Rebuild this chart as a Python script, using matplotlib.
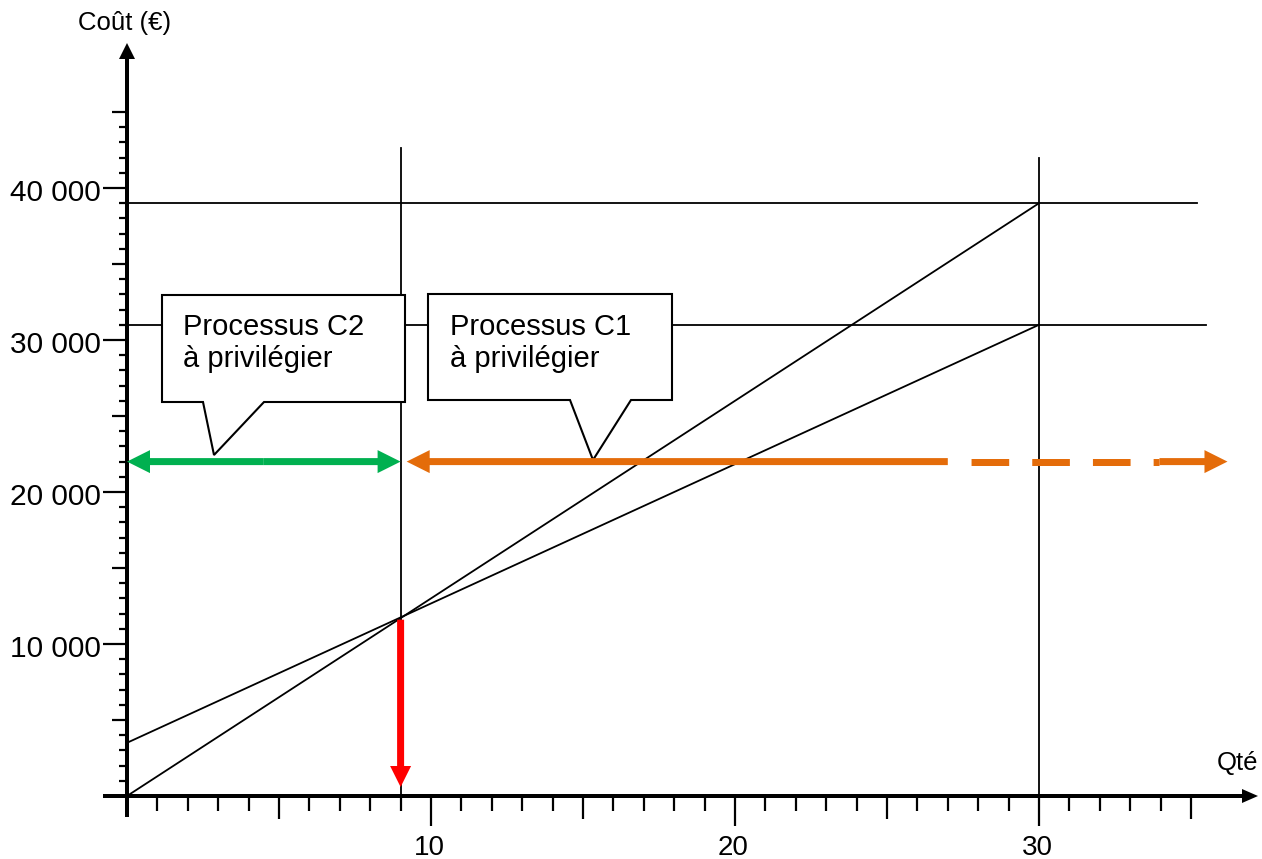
import matplotlib
matplotlib.use("Agg")
import matplotlib.pyplot as plt
import matplotlib.patches as patches

plt.rcParams['font.family'] = ['Liberation Sans', 'DejaVu Sans']
plt.rcParams['lines.scale_dashes'] = False

# data
qty = [0, 30]
cost_c2 = [0, 39000]      # line through the origin
cost_c1 = [3500, 31000]   # line with a fixed cost
threshold_qty = 9
threshold_cost = 11600
ref_levels = [39000, 31000]
ref_level_ends = [35.2, 35.5]
ref_qty = [9, 30]
ref_qty_tops = [42600, 42000]
zone_level = 22000
c2_zone = [0, 9]
c1_zone = [9.2, 27, 36.2]    # start, end of solid part, tip of dashed part
x_tick_vals = [10, 20, 30]
x_tick_labels = ['10', '20', '30']
y_tick_vals = [10000, 20000, 30000, 40000]
y_tick_labels = ['10 000', '20 000', '30 000', '40 000']
box_texts = ['Processus C2\nà privilégier', 'Processus C1\nà privilégier']

GREEN = '#00B050'
ORANGE = '#E46C0A'
RED = '#FF0000'

# pixel <-> data helpers (origin at pixel 127, 796)
PX = 30.4      # pixels per unit of quantity
PY = 0.0152    # pixels per euro
def px(p):
    return (p - 127) / PX
def py(p):
    return (796 - p) / PY

fig = plt.figure(figsize=(12.62, 8.59), dpi=100)
ax = fig.add_axes([0, 0, 1, 1])
ax.set_xlim(px(0), px(1262))
ax.set_ylim(py(859), py(0))
ax.axis('off')

# cost lines
ax.plot(qty, cost_c2, color='black', lw=1.3, zorder=2)
ax.plot(qty, cost_c1, color='black', lw=1.3, zorder=2)

# reference lines
for lvl, end in zip(ref_levels, ref_level_ends):
    ax.plot([0, end], [lvl, lvl], color='black', lw=1.3, zorder=2)
for q, top in zip(ref_qty, ref_qty_tops):
    ax.plot([q, q], [0, top], color='black', lw=1.3, zorder=2)

# axes with arrows
ax.add_patch(patches.FancyArrow(0, py(817), 0, py(43) - py(817), width=4 / PX,
                                head_width=16 / PX, head_length=16 / PY,
                                length_includes_head=True, color='black', lw=0, zorder=4))
ax.add_patch(patches.FancyArrow(px(103), 0, px(1258) - px(103), 0, width=4 / PY,
                                head_width=14 / PY, head_length=16 / PX,
                                length_includes_head=True, color='black', lw=0, zorder=4))

# x ticks
for q in range(1, 36):
    ln = 30 if q % 10 == 0 else (23 if q % 5 == 0 else 15)
    ax.plot([q, q], [0, py(796 + ln)], color='black', lw=1.6, solid_capstyle='butt', zorder=4)
# y ticks
for c in range(1000, 46000, 1000):
    ln = 24 if c % 10000 == 0 else (15 if c % 5000 == 0 else 8)
    ax.plot([px(127 - ln), 0], [c, c], color='black', lw=1.6, solid_capstyle='butt', zorder=4)

for v, lab in zip(x_tick_vals, x_tick_labels):
    ax.text(v - 2 / PX, py(848), lab, ha='center', va='center', fontsize=20)
for v, lab in zip(y_tick_vals, y_tick_labels):
    ax.text(px(101), v - 5 / PY, lab, ha='right', va='center', fontsize=21.5)

ax.text(px(78), py(23), 'Coût (€)', ha='left', va='center', fontsize=18.5)
ax.text(px(1217), py(763), 'Qté', ha='left', va='center', fontsize=18.5)

# callout boxes
boxes = [
    [(162, 295), (405, 295), (405, 402), (264, 402), (214, 455), (203, 402), (162, 402)],
    [(428, 294), (672, 294), (672, 400), (631, 400), (593, 460), (570, 400), (428, 400)],
]
text_pos = [(183, 367), (450, 367)]   # baseline of the second line
for verts, txt, (tx, ty) in zip(boxes, box_texts, text_pos):
    ax.add_patch(patches.Polygon([(px(a), py(b)) for a, b in verts], closed=True,
                                 facecolor='white', edgecolor='black', lw=1.5,
                                 joinstyle='miter', zorder=5))
    ax.text(px(tx), py(ty), txt, ha='left', va='baseline', fontsize=21,
            linespacing=1.2, zorder=6)

# green double arrow (C2 zone)
mid = (c2_zone[0] + c2_zone[1]) / 2
for end in c2_zone:
    ax.add_patch(patches.FancyArrow(mid, zone_level, end - mid, 0, width=7 / PY,
                                    head_width=23 / PY, head_length=23 / PX,
                                    length_includes_head=True, color=GREEN, lw=0, zorder=6))

# orange arrow (C1 zone): solid part, dashed part, final head
ax.add_patch(patches.FancyArrow(c1_zone[1], zone_level, c1_zone[0] - c1_zone[1], 0,
                                width=7 / PY, head_width=23 / PY, head_length=23 / PX,
                                length_includes_head=True, color=ORANGE, lw=0, zorder=6))
last_dash = c1_zone[2] - 68 / PX
ax.plot([c1_zone[1], last_dash], [zone_level, zone_level], color=ORANGE, lw=5.04,
        linestyle=(27.1, (27.1, 16.6)), dash_capstyle='butt', zorder=6)
ax.add_patch(patches.FancyArrow(last_dash, zone_level, c1_zone[2] - last_dash, 0,
                                width=7 / PY, head_width=23 / PY, head_length=23 / PX,
                                length_includes_head=True, color=ORANGE, lw=0, zorder=6))

# red arrow down to the threshold quantity
ax.add_patch(patches.FancyArrow(threshold_qty, threshold_cost, 0, py(787) - threshold_cost,
                                width=7 / PX, head_width=21 / PX, head_length=21 / PY,
                                length_includes_head=True, color=RED, lw=0, zorder=6))

fig.savefig('out.png', dpi=100)
